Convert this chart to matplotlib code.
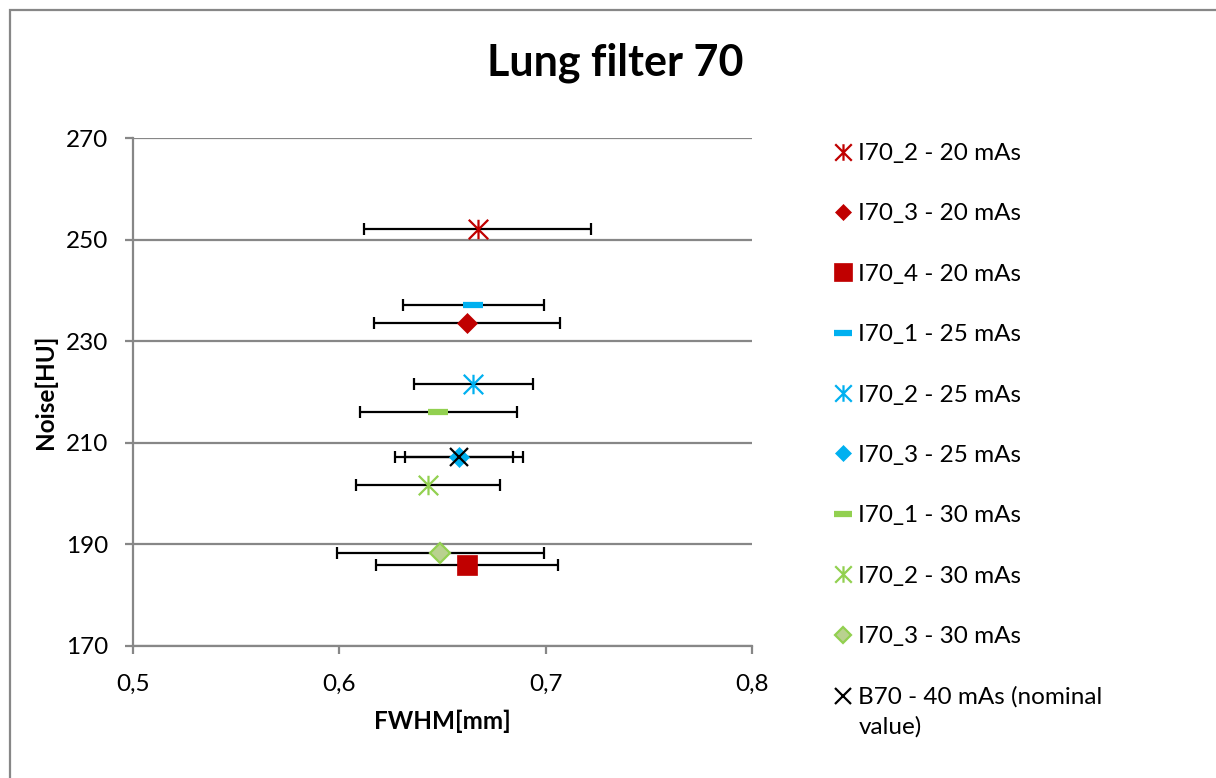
import matplotlib
matplotlib.use("Agg")
import matplotlib.pyplot as plt
from matplotlib.path import Path
from matplotlib.patches import Rectangle
from matplotlib.ticker import FuncFormatter

plt.rcParams['font.family'] = ['Lato', 'DejaVu Sans']

# Measured FWHM (mm) and noise (HU) with FWHM uncertainty
labels = ["I70_2 - 20 mAs", "I70_3 - 20 mAs", "I70_4 - 20 mAs",
          "I70_1 - 25 mAs", "I70_2 - 25 mAs", "I70_3 - 25 mAs",
          "I70_1 - 30 mAs", "I70_2 - 30 mAs", "I70_3 - 30 mAs",
          "B70 - 40 mAs (nominal"]
label_tail = "value)"
fwhm = [0.667, 0.662, 0.662, 0.665, 0.665, 0.658, 0.648, 0.643, 0.649, 0.658]
noise = [252.1, 233.6, 185.9, 237.2, 221.6, 207.2, 216.0, 201.6, 188.4, 207.2]
fwhm_err = [0.055, 0.045, 0.044, 0.034, 0.029, 0.031, 0.038, 0.035, 0.050, 0.026]

x_ticks = [0.5, 0.6, 0.7, 0.8]
y_ticks = [170, 190, 210, 230, 250, 270]

RED = "#C00000"
BLUE = "#00B0F0"
GREEN = "#92D050"

# six-armed star: vertical stroke plus an X
star = Path([(0, -1), (0, 1), (-1, -1), (1, 1), (-1, 1), (1, -1)],
            [Path.MOVETO, Path.LINETO, Path.MOVETO, Path.LINETO,
             Path.MOVETO, Path.LINETO])

styles = [
    dict(marker=star, ms=14, mec=RED, mfc="none", mew=1.6),
    dict(marker="D", ms=10, mec=RED, mfc=RED, mew=0.5),
    dict(marker="s", ms=14.5, mec=RED, mfc=RED, mew=0.5),
    dict(marker="_", ms=15, mec=BLUE, mew=4.5),
    dict(marker=star, ms=14, mec=BLUE, mfc="none", mew=1.6),
    dict(marker="D", ms=10, mec=BLUE, mfc=BLUE, mew=0.5),
    dict(marker="_", ms=15, mec=GREEN, mew=4.5),
    dict(marker=star, ms=14, mec=GREEN, mfc="none", mew=1.6),
    dict(marker="D", ms=10, mec=GREEN, mfc="#B9D18F", mew=1.6),
    dict(marker="x", ms=13, mec="black", mew=1.6),
]

FS = 17.5
W, H = 1216, 778

fig = plt.figure(figsize=(W / 100, H / 100), dpi=100)
ax = fig.add_axes([133 / W, 1 - 646 / H, (752 - 133) / W, (646 - 138) / H])

handles = []
for xv, yv, err, lab, st in zip(fwhm, noise, fwhm_err, labels, styles):
    ax.errorbar([xv], [yv], xerr=[err], fmt="none", ecolor="black",
                elinewidth=1.6, capsize=4, capthick=1.6, zorder=3)
    ln, = ax.plot([xv], [yv], linestyle="none", label=lab, zorder=4, **st)
    handles.append(ln)

ax.set_xlim(0.5, 0.8)
ax.set_ylim(170, 270)
ax.set_xticks(x_ticks)
ax.set_yticks(y_ticks)
ax.xaxis.set_major_formatter(FuncFormatter(lambda v, p: f"{v:.1f}".replace(".", ",")))
ax.yaxis.set_major_formatter(FuncFormatter(lambda v, p: f"{v:.0f}"))

GRID = "#878787"
ax.yaxis.grid(True, color=GRID, linewidth=1.6, zorder=0)
ax.set_axisbelow(True)
for s in ("top", "right"):
    ax.spines[s].set_visible(False)
for s in ("left", "bottom"):
    ax.spines[s].set_color(GRID)
    ax.spines[s].set_linewidth(1.6)
ax.tick_params(axis="both", direction="out", length=6, width=1.6, color=GRID,
               labelsize=FS, labelcolor="black")
ax.tick_params(axis="y", pad=12)
ax.tick_params(axis="x", pad=14)

ax.set_xlabel("FWHM[mm]", fontsize=FS, fontweight="bold", labelpad=11)
ax.set_ylabel("Noise[HU]", fontsize=FS, fontweight="bold", labelpad=6)

fig.text(615 / W, 1 - 63 / H, "Lung filter 70", fontsize=31,
         fontweight="bold", ha="center", va="center")

leg = ax.legend(handles=handles, loc="upper left",
                bbox_to_anchor=(834 / W, 1 - 143 / H),
                bbox_transform=fig.transFigure, frameon=False, fontsize=FS,
                handlelength=0.7, handletextpad=0.3, labelspacing=1.62,
                borderaxespad=0, borderpad=0, numpoints=1, markerscale=0.85)

# second line of the last legend entry, aligned under its first line
fig.canvas.draw()
bb = leg.get_texts()[-1].get_window_extent()
fig.text(bb.x0 / W, (bb.y0 - 8) / H, label_tail, fontsize=FS,
         ha="left", va="top")

# outer chart border (left and top edges fall inside the canvas)
fig.patches.append(Rectangle((10 / W, -0.5), 2.0, 0.5 + 1 - 10 / H,
                             transform=fig.transFigure, fill=False,
                             edgecolor=GRID, linewidth=1.6))

fig.savefig("out.png", dpi=100, facecolor="white")
